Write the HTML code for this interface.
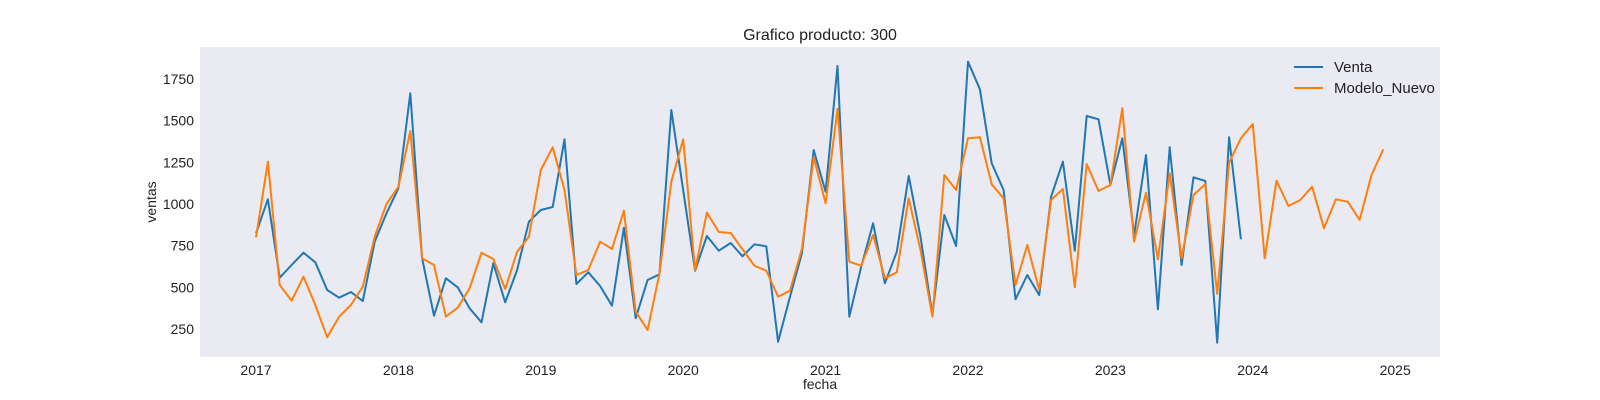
<!DOCTYPE html>
<html><head><meta charset="utf-8"><style>
body{margin:0;background:#fff;overflow:hidden;}
svg{display:block;font-family:"Liberation Sans",sans-serif;}
</style></head><body>
<svg id="chart" width="1600" height="400">
<rect x="0" y="0" width="1600" height="400" fill="#fff"/>
<rect x="200" y="47" width="1240" height="310" fill="#EAEAF2"/>
<text x="820" y="40" text-anchor="middle" font-size="16" fill="#222">Grafico producto: 300</text>
<text x="820" y="389" text-anchor="middle" font-size="14" fill="#222">fecha</text>
<text x="0" y="0" transform="translate(156,202) rotate(-90)" text-anchor="middle" font-size="14" fill="#222">ventas</text>
<g id="yticks"></g><g id="xticks"></g><g id="series"></g>
<g>
<g>
<line x1="1294" y1="67" x2="1323" y2="67" stroke="#1f77b4" stroke-width="2"/>
<text x="1334" y="72" font-size="15" fill="#222">Venta</text></g>
<g>
<line x1="1294" y1="88" x2="1323" y2="88" stroke="#ff7f0e" stroke-width="2"/>
<text x="1334" y="93" font-size="15" fill="#222">Modelo_Nuevo</text></g>
</g>
</svg>
<script>
const yTicks=[250,500,750,1000,1250,1500,1750];
const xTickLabels=["2017","2018","2019","2020","2021","2022","2023","2024","2025"];
const venta=[824,1028,558,634,708,650,484,438,472,418,774,944,
1094,1664,674,330,554,500,374,290,644,410,604,894,
964,982,1388,520,590,508,390,858,314,544,578,1564,
1082,600,808,720,766,686,758,746,174,444,704,1324,
1074,1828,324,624,884,524,714,1168,804,334,934,748,
1854,1688,1244,1084,428,574,454,1044,1254,720,1528,1508,
1114,1394,814,1294,368,1340,634,1160,1138,168,1400,788];
const modelo=[800,1254,514,420,564,394,200,324,394,504,804,1000,
1104,1438,674,634,324,378,494,708,670,490,714,804,
1204,1340,1084,574,604,774,730,960,354,244,584,1134,
1388,604,948,832,826,728,630,600,444,480,730,1280,
1004,1572,654,630,814,554,590,1034,724,324,1174,1084,
1394,1400,1118,1034,514,754,484,1024,1090,500,1240,1078,
1114,1574,774,1068,668,1184,674,1054,1118,460,1248,1394,
1480,674,1140,988,1024,1104,854,1028,1014,904,1174,1328];
const NS="http://www.w3.org/2000/svg";
function yPos(v){return 329-(v-250)/6;}
function xPos(i){return 256+i*142.4/12;}
function yearX(k){return 256+k*142.4;}
const yg=document.getElementById('yticks');
yTicks.forEach(v=>{const t=document.createElementNS(NS,'text');
t.setAttribute('x',194);t.setAttribute('y',yPos(v)+5);t.setAttribute('text-anchor','end');
t.setAttribute('font-size','14');t.setAttribute('fill','#222');t.textContent=v;


yg.appendChild(t);});
const xg=document.getElementById('xticks');
xTickLabels.forEach((s,k)=>{const t=document.createElementNS(NS,'text');
t.setAttribute('x',yearX(k));t.setAttribute('y',375);t.setAttribute('text-anchor','middle');
t.setAttribute('font-size','14');t.setAttribute('fill','#222');t.textContent=s;


xg.appendChild(t);});
const sg=document.getElementById('series');
function draw(arr,color,name){const p=document.createElementNS(NS,'polyline');
p.setAttribute('points',arr.map((v,i)=>xPos(i).toFixed(1)+','+yPos(v).toFixed(1)).join(' '));
p.setAttribute('fill','none');p.setAttribute('stroke',color);p.setAttribute('stroke-width','2');
p.setAttribute('stroke-linejoin','round');


sg.appendChild(p);}
draw(venta,'#1f77b4','venta-line');
draw(modelo,'#ff7f0e','modelo-nuevo-line');
</script>
</body></html>
